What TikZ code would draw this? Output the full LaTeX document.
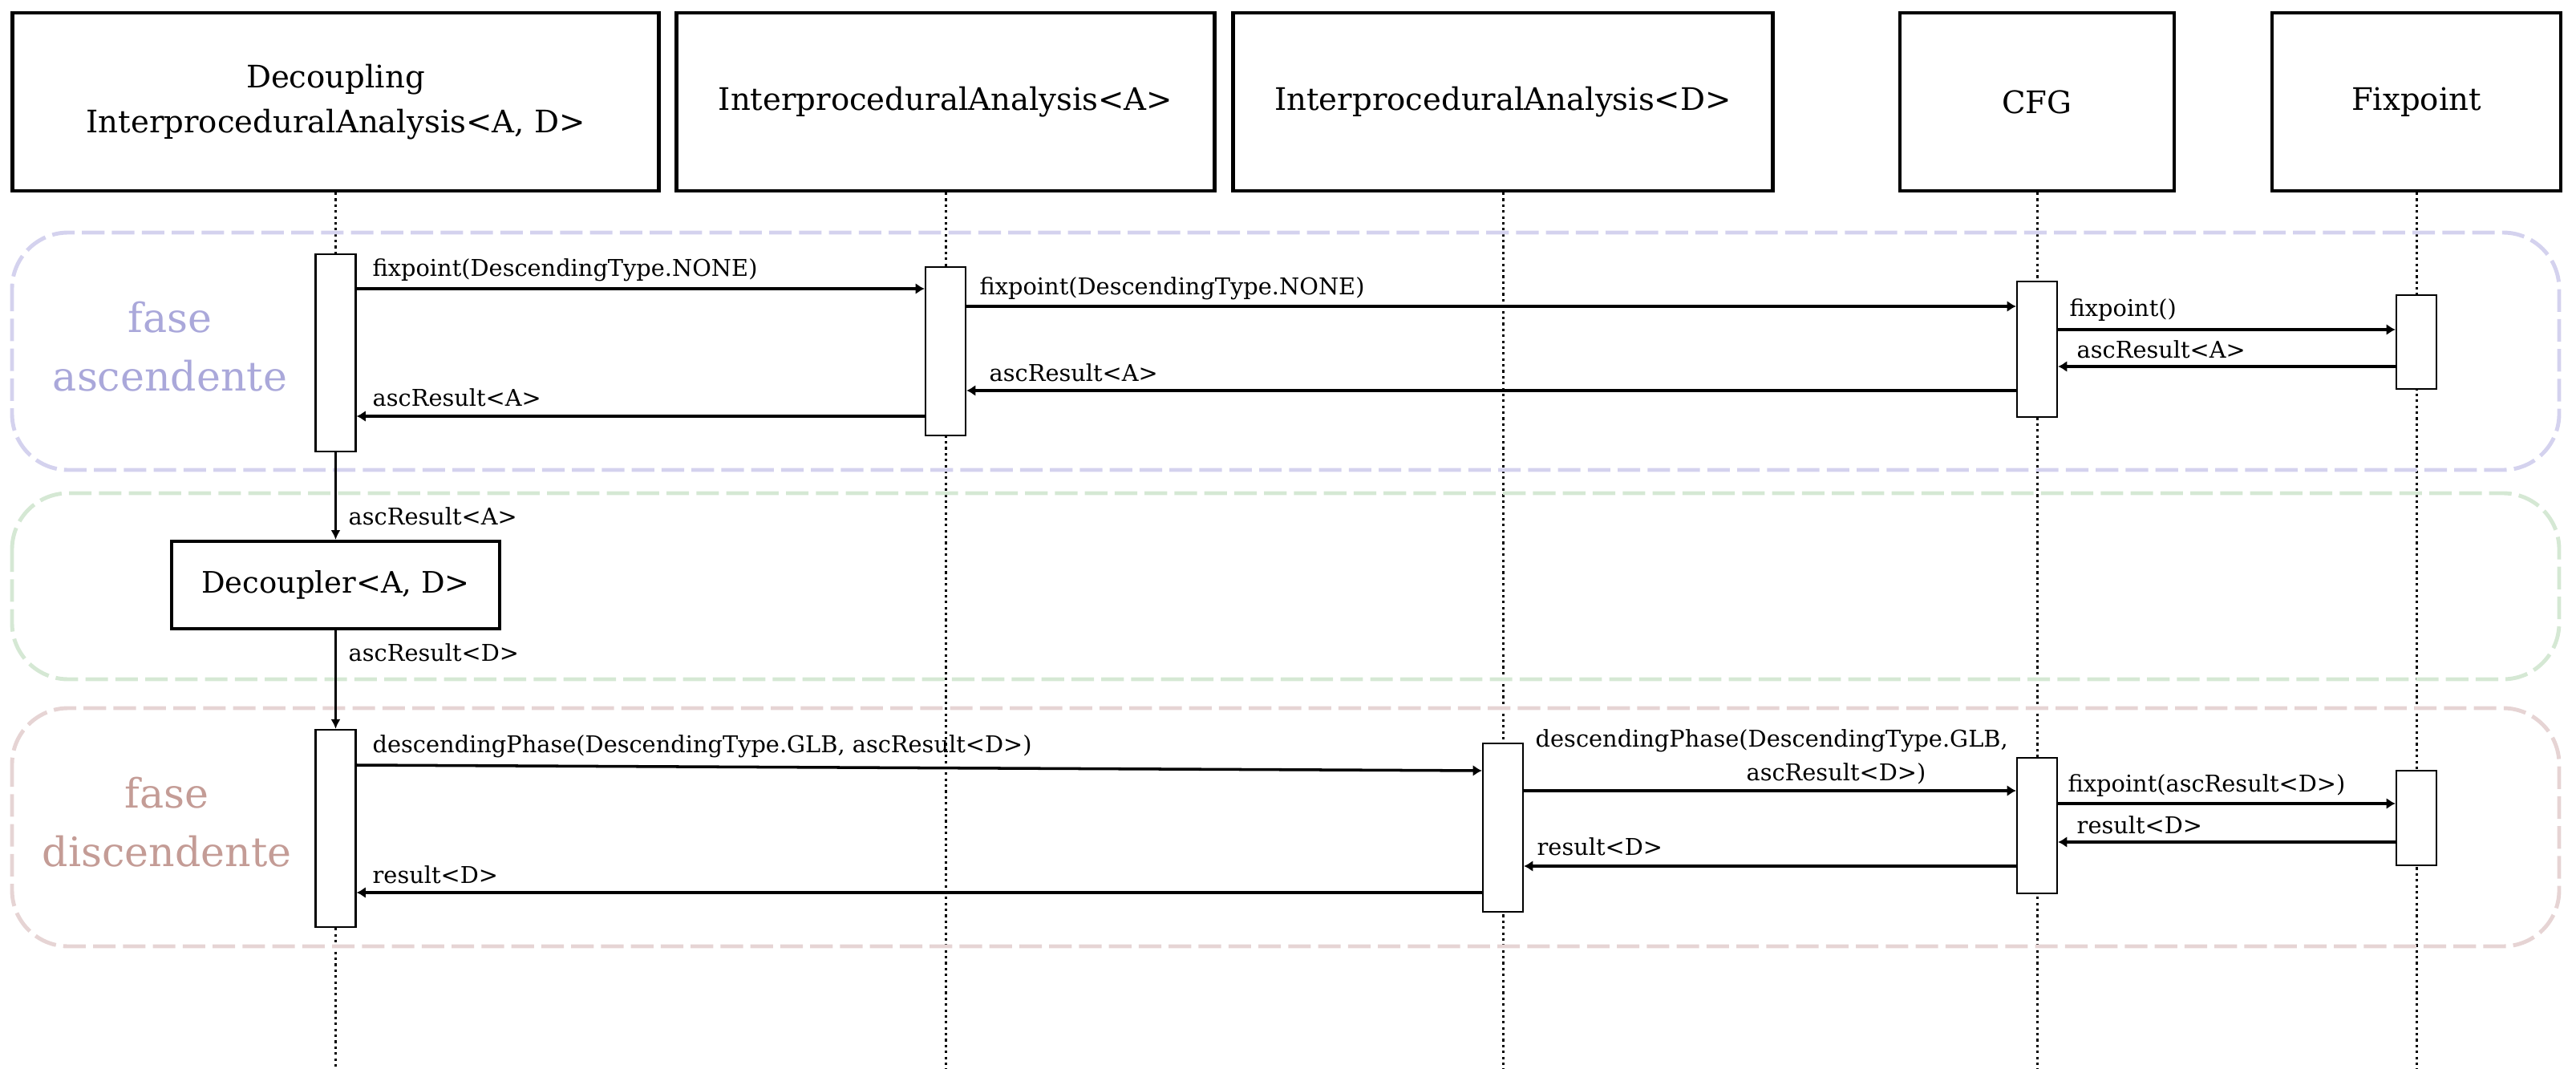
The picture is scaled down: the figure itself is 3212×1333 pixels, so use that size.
\documentclass[tikz,border=0pt]{standalone}
\usepackage{fontspec}
\setmainfont{DejaVu Serif}
\usetikzlibrary{arrows.meta}
\definecolor{ascline}{HTML}{D4D2EE}
\definecolor{decline}{HTML}{D5E8D4}
\definecolor{desline}{HTML}{E6D4D4}
\definecolor{asctext}{HTML}{AAA8DA}
\definecolor{destext}{HTML}{C49C96}
\pgfdeclarelayer{background}
\pgfsetlayers{background,main}
\tikzset{
  hdr/.style={draw, line width=1.15pt, minimum height=22.2mm, align=center, inner sep=0pt, font=\fontsize{11}{16}\selectfont},
  bar/.style={draw, fill=white, line width=0.65pt, minimum width=5mm, inner sep=0pt},
  life/.style={line width=0.85pt, dash pattern=on 0.9pt off 1.2pt},
  msg/.style={line width=1pt, -{Latex[length=3.2pt,width=4pt]}},
  vmsg/.style={line width=0.6pt, -{Latex[length=3.4pt,width=3.4pt]}},
  lbl/.style={anchor=west, inner sep=0pt, align=left, font=\fontsize{8.2}{12}\selectfont},
  phase/.style={line width=1.4pt, dash pattern=on 8pt off 2.6pt, rounded corners=7mm},
  phtxt/.style={align=center, inner sep=0pt, font=\fontsize{14.4}{20.8}\selectfont}
}
\begin{document}
\begin{tikzpicture}[x=0.1mm,y=-0.1mm]
\useasboundingbox (0,0) rectangle (3212,1333);
% phase frames
\draw[phase, draw=ascline] (15,290) rectangle (3191,586);
\draw[phase, draw=decline] (15,615) rectangle (3191,847);
\draw[phase, draw=desline] (15,883) rectangle (3191,1180);
\node[phtxt, text=asctext] (pa) at (212,432) {fase\\ascendente};
\node[phtxt, text=destext] (pd) at (208,1025) {fase\\discendente};
% headers
\node[hdr, minimum width=80.6mm] (h1) at (418.5,127) {Decoupling\\InterproceduralAnalysis<A, D>};
\node[hdr, minimum width=67.1mm] (h2) at (1179,127) {InterproceduralAnalysis<A>};
\node[hdr, minimum width=67.3mm] (h3) at (1874,127) {InterproceduralAnalysis<D>};
\node[hdr, minimum width=34.2mm] (h4) at (2540,127) {CFG};
\node[hdr, minimum width=36mm] (h5) at (3013,127) {Fixpoint};
% activation bars
\node[bar, minimum height=24.6mm] (a1) at (418.5,440) {};
\node[bar, minimum height=21mm] (a2) at (1179,438) {};
\node[bar, minimum height=16.9mm] (a3) at (2540,435.5) {};
\node[bar, minimum height=11.7mm] (a4) at (3013,426.5) {};
\node[hdr, minimum width=40.9mm, minimum height=10.9mm, font=\fontsize{10.5}{14}\selectfont] (dec) at (418.5,729.5) {Decoupler<A, D>};
\node[bar, minimum height=24.6mm] (d1) at (418.5,1033) {};
\node[bar, minimum height=21mm] (d2) at (1874,1032) {};
\node[bar, minimum height=16.9mm] (d3) at (2540,1029.5) {};
\node[bar, minimum height=11.8mm] (d4) at (3013,1020) {};
% lifelines
\begin{pgfonlayer}{background}
\draw[life] (h1.south) -- (a1.north);
\draw[life] (d1.south) -- (d1.south |- 0,1333);
\draw[life] (h2.south) -- (h2.south |- 0,1333);
\draw[life] (h3.south) -- (h3.south |- 0,1333);
\draw[life] (h4.south) -- (h4.south |- 0,1333);
\draw[life] (h5.south) -- (h5.south |- 0,1333);
\end{pgfonlayer}
% ascending messages
\draw[msg] (a1.east |- 0,360) -- (a2.west |- 0,360);
\node[lbl] (l1) at (464,337) {fixpoint(DescendingType.NONE)};
\draw[msg] (a2.east |- 0,382) -- (a3.west |- 0,382);
\node[lbl] (l2) at (1221,360) {fixpoint(DescendingType.NONE)};
\draw[msg] (a3.east |- 0,411) -- (a4.west |- 0,411);
\node[lbl] (l3) at (2580,387) {fixpoint()};
\draw[msg] (a4.west |- 0,457) -- (a3.east |- 0,457);
\node[lbl] (l4) at (2589,436) {ascResult<A>};
\draw[msg] (a3.west |- 0,487) -- (a2.east |- 0,487);
\node[lbl] (l5) at (1233,465) {ascResult<A>};
\draw[msg] (a2.west |- 0,519) -- (a1.east |- 0,519);
\node[lbl] (l6) at (464,496) {ascResult<A>};
% decoupler
\draw[vmsg] (a1.south) -- (dec.north);
\node[lbl] (l7) at (434,644) {ascResult<A>};
\draw[vmsg] (dec.south) -- (d1.north);
\node[lbl] (l8) at (434,814) {ascResult<D>};
% descending messages
\draw[msg] (d1.east |- 0,954) -- (d2.west |- 0,961);
\node[lbl] (l9) at (464,931) {descendingPhase(DescendingType.GLB, ascResult<D>)};
\draw[msg] (d2.east |- 0,986) -- (d3.west |- 0,986);
\node[lbl] (l10) at (1914,944) {descendingPhase(DescendingType.GLB,\\\hspace*{74.8pt}ascResult<D>)};
\draw[msg] (d3.east |- 0,1002) -- (d4.west |- 0,1002);
\node[lbl] (l11) at (2578,980) {fixpoint(ascResult<D>)};
\draw[msg] (d4.west |- 0,1050) -- (d3.east |- 0,1050);
\node[lbl] (l12) at (2589,1029) {result<D>};
\draw[msg] (d3.west |- 0,1080) -- (d2.east |- 0,1080);
\node[lbl] (l13) at (1916,1056) {result<D>};
\draw[msg] (d2.west |- 0,1113) -- (d1.east |- 0,1113);
\node[lbl] (l14) at (464,1091) {result<D>};
\end{tikzpicture}
\end{document}
